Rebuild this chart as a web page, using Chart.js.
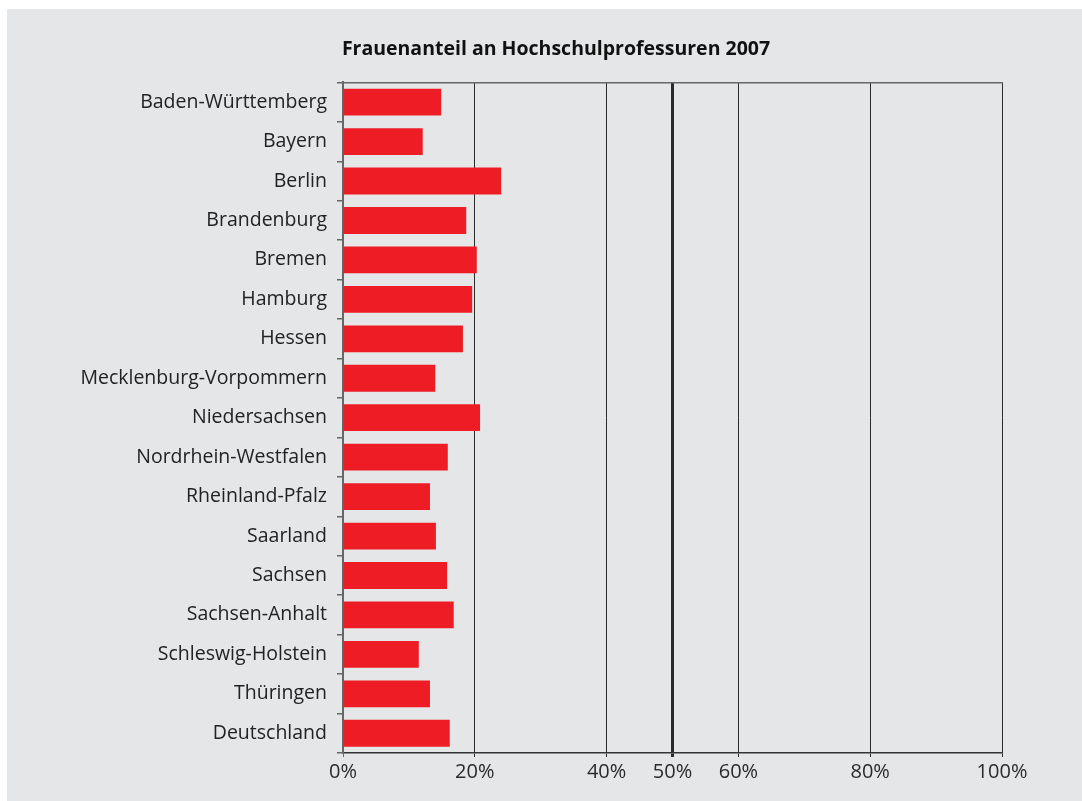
<!DOCTYPE html>
<html lang="de">
<head>
  <meta charset="UTF-8">
  <title>Frauenanteil an Hochschulprofessuren 2007</title>
  <style>
    html, body { margin: 0; padding: 0; background: #fff; }
    .panel {
      position: absolute; left: 7px; top: 9px; right: 0; bottom: 0;
      background: #e5e6e8;
    }
    .wrap { position: absolute; left: 0; top: 0; width: 1082px; height: 801px; }
  </style>
</head>
<body>
  <div class="panel"></div>
  <div class="wrap"><canvas id="myChart" width="1082" height="801"></canvas></div>
</body>
<script src="https://cdn.jsdelivr.net/npm/chart.js@4.4.1/dist/chart.umd.min.js"></script>
<script>
const laender = [
  'Baden-Württemberg', 'Bayern', 'Berlin', 'Brandenburg', 'Bremen', 'Hamburg',
  'Hessen', 'Mecklenburg-Vorpommern', 'Niedersachsen', 'Nordrhein-Westfalen',
  'Rheinland-Pfalz', 'Saarland', 'Sachsen', 'Sachsen-Anhalt',
  'Schleswig-Holstein', 'Thüringen', 'Deutschland'
];
const anteil = [14.9, 12.1, 24.0, 18.7, 20.3, 19.6, 18.2, 14.0, 20.8, 15.9,
  13.2, 14.1, 15.8, 16.8, 11.5, 13.2, 16.2];
const xTicks = [0, 20, 40, 50, 60, 80, 100];

const font = '"Open Sans", "Noto Sans", sans-serif';
const ctx = document.getElementById('myChart').getContext('2d');

// the title in the original is centred further right than the canvas middle
const titleShift = {
  id: 'titleShift',
  afterLayout(chart) {
    const t = chart.titleBlock;
    if (t) { t.left = 110; t.width = t.right - t.left; }
  }
};

new Chart(ctx, {
  type: 'bar',
  data: {
    labels: laender,
    datasets: [{
      data: anteil,
      backgroundColor: '#ee1d25',
      borderWidth: 0,
      categoryPercentage: 0.85,
      barPercentage: 0.8
    }]
  },
  options: {
    indexAxis: 'y',
    responsive: false,
    animation: false,
    layout: { padding: { left: 0, right: 80, top: 0, bottom: 0 } },
    plugins: {
      legend: { display: false },
      tooltip: { enabled: false },
      title: {
        display: true,
        text: 'Frauenanteil an Hochschulprofessuren 2007',
        color: '#111',
        font: { family: font, size: 19.5, weight: 'bold', lineHeight: 1.2 },
        padding: { top: 38, bottom: 21 }
      }
    },
    scales: {
      x: {
        min: 0,
        max: 100,
        afterBuildTicks(scale) {
          scale.ticks = xTicks.map(v => ({ value: v }));
        },
        afterFit(scale) { scale.height = 48; },
        border: { display: true, color: '#333', width: 1.5 },
        grid: {
          color: c => c.tick && c.tick.value === 0 ? '#666' : '#2a2a2a',
          lineWidth: c => c.tick && c.tick.value === 50 ? 3 : 1,
          tickLength: 4
        },
        ticks: {
          color: '#2a2a2a',
          font: { family: font, size: 20 },
          padding: 3,
          maxRotation: 0,
          autoSkip: false,
          callback: v => v + '%'
        }
      },
      x2: {
        position: 'top',
        min: 0,
        max: 100,
        afterFit(scale) { scale.height = 0; },
        border: { display: true, color: '#666', width: 1.5 },
        grid: { display: false },
        ticks: { display: false }
      },
      y: {
        afterFit(scale) { scale.width = 343; },
        border: { display: true, color: '#666', width: 2 },
        grid: {
          offset: true,
          drawOnChartArea: false,
          drawTicks: true,
          tickLength: 6,
          color: '#666',
          lineWidth: 1.5
        },
        ticks: {
          color: '#222',
          font: { family: font, size: 19.5 },
          padding: 10,
          autoSkip: false
        }
      }
    }
  },
  plugins: [titleShift]
});
</script>
</html>
